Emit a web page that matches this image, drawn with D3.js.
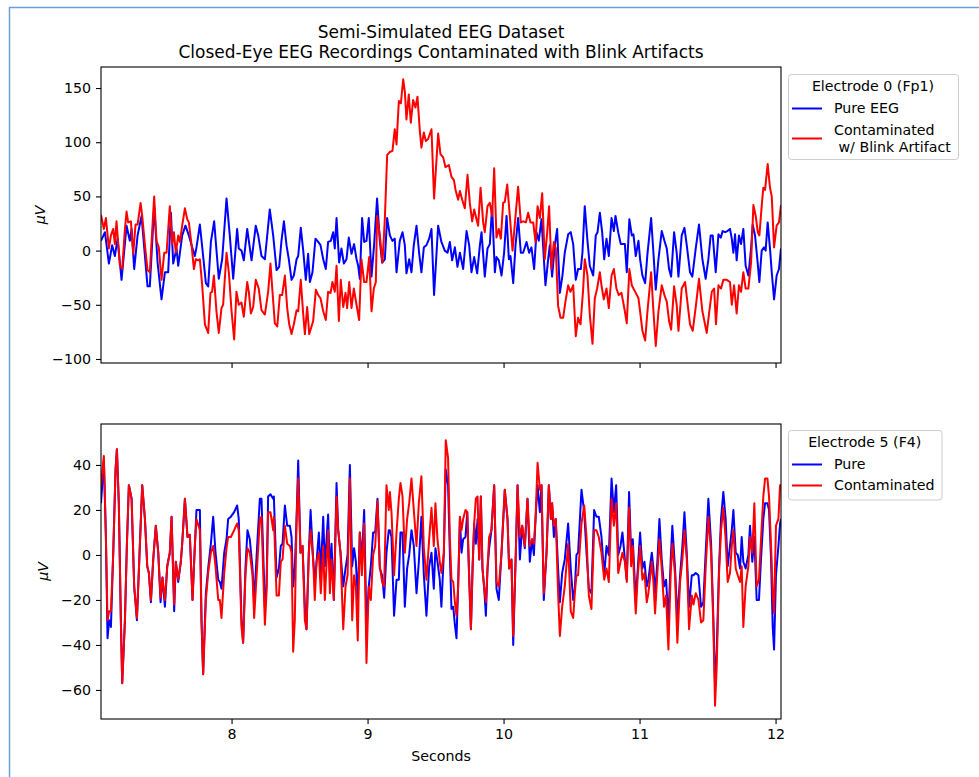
<!DOCTYPE html>
<html>
<head>
<meta charset="utf-8">
<script src="https://cdn.jsdelivr.net/npm/d3@7"></script>
<style>
  body { margin: 0; background: #fff; }
  text { font-family: "DejaVu Sans", sans-serif; }
</style>
</head>
<body>
<div id="chart"></div>
<script>
// readings taken off the figure: [seconds, microvolts]
var fp1Pure = [[7.04,9],[7.069,17],[7.098,-12],[7.122,5],[7.142,-5],[7.162,11],[7.191,-27],[7.228,23],[7.252,9],[7.265,20],[7.284,-17],[7.309,14],[7.338,32],[7.382,-33],[7.399,-33],[7.431,41],[7.456,-11],[7.485,-45],[7.510,-20],[7.534,-20],[7.554,35],[7.571,-12],[7.595,2],[7.608,-14],[7.637,14],[7.661,23],[7.686,14],[7.706,5],[7.730,-5],[7.742,3],[7.767,24],[7.791,-5],[7.811,-30],[7.828,-33],[7.848,8],[7.872,27],[7.906,-26],[7.931,-8],[7.963,48],[7.987,14],[8.012,-26],[8.041,20],[8.053,2],[8.073,0],[8.090,-9],[8.115,20],[8.147,-9],[8.178,23],[8.196,14],[8.220,-5],[8.245,-8],[8.281,38],[8.306,14],[8.331,-18],[8.350,-15],[8.367,9],[8.385,27],[8.404,5],[8.421,-8],[8.441,-27],[8.458,-23],[8.478,-8],[8.490,-5],[8.509,21],[8.527,0],[8.546,-27],[8.563,-3],[8.576,-29],[8.595,-20],[8.617,11],[8.637,8],[8.654,5],[8.674,-8],[8.693,-17],[8.710,8],[8.730,9],[8.747,17],[8.759,2],[8.772,30],[8.791,-11],[8.808,2],[8.826,-12],[8.845,-8],[8.862,12],[8.882,-3],[8.901,6],[8.919,-8],[8.931,-14],[8.943,-26],[8.960,30],[8.975,8],[8.992,9],[9.009,30],[9.029,-24],[9.048,5],[9.070,48],[9.090,9],[9.107,-11],[9.127,-8],[9.144,30],[9.164,14],[9.183,9],[9.200,11],[9.213,-20],[9.237,9],[9.257,17],[9.274,5],[9.286,-21],[9.306,-8],[9.323,-20],[9.340,5],[9.360,23],[9.379,-2],[9.396,-20],[9.414,3],[9.433,5],[9.453,11],[9.470,20],[9.489,-41],[9.519,23],[9.543,8],[9.568,0],[9.588,-2],[9.605,8],[9.622,-9],[9.642,3],[9.661,-15],[9.679,-2],[9.703,-17],[9.728,18],[9.747,5],[9.764,-20],[9.784,-6],[9.806,-21],[9.826,5],[9.838,17],[9.862,-24],[9.882,2],[9.899,6],[9.916,41],[9.936,-20],[9.948,-6],[9.965,-9],[9.985,-23],[10.004,-2],[10.022,32],[10.039,-8],[10.051,-5],[10.071,-30],[10.088,5],[10.107,30],[10.127,-2],[10.144,-2],[10.169,8],[10.188,-2],[10.205,3],[10.225,-17],[10.242,17],[10.259,9],[10.279,29],[10.308,-32],[10.328,-8],[10.340,5],[10.357,-24],[10.377,5],[10.394,20],[10.414,-39],[10.433,-23],[10.450,-2],[10.475,15],[10.494,17],[10.512,6],[10.531,-27],[10.548,-17],[10.568,-17],[10.580,-2],[10.597,41],[10.617,9],[10.634,-14],[10.659,-23],[10.678,14],[10.691,17],[10.708,35],[10.725,17],[10.740,-8],[10.757,11],[10.774,-5],[10.794,30],[10.811,18],[10.823,32],[10.843,17],[10.862,6],[10.892,6],[10.906,-20],[10.925,29],[10.943,14],[10.955,15],[10.972,-5],[10.992,9],[11.004,-8],[11.021,-23],[11.041,-30],[11.058,-3],[11.085,30],[11.102,-2],[11.119,-36],[11.139,-8],[11.163,18],[11.183,9],[11.200,2],[11.217,-17],[11.232,-24],[11.254,17],[11.273,-2],[11.286,-24],[11.310,14],[11.330,21],[11.347,5],[11.371,-20],[11.388,-24],[11.413,2],[11.437,24],[11.462,-8],[11.486,-26],[11.506,-8],[11.523,14],[11.538,14],[11.560,-20],[11.580,15],[11.597,12],[11.611,18],[11.629,17],[11.646,18],[11.665,20],[11.678,11],[11.690,-2],[11.702,15],[11.714,-9],[11.731,14],[11.746,6],[11.763,20],[11.780,-14],[11.800,-23],[11.820,2],[11.832,24],[11.849,14],[11.866,-8],[11.881,-29],[11.898,0],[11.915,3],[11.927,0],[11.942,26],[11.959,2],[11.972,-20],[11.989,-45],[12.008,-23],[12.025,-17],[12.04,2]];

var fp1Contam = [[7.04,33],[7.061,20],[7.076,30],[7.098,2],[7.113,14],[7.130,20],[7.142,6],[7.154,27],[7.179,-14],[7.196,-17],[7.216,20],[7.228,36],[7.240,26],[7.260,27],[7.277,-3],[7.294,24],[7.309,24],[7.331,44],[7.343,32],[7.363,5],[7.382,-18],[7.399,-20],[7.431,50],[7.448,9],[7.465,3],[7.485,-27],[7.505,-2],[7.522,-2],[7.546,41],[7.563,6],[7.576,17],[7.590,-2],[7.608,14],[7.620,8],[7.637,23],[7.657,39],[7.674,29],[7.686,26],[7.706,5],[7.723,-17],[7.737,-8],[7.755,-9],[7.767,-8],[7.784,-32],[7.804,-68],[7.828,-76],[7.845,-39],[7.857,-38],[7.870,-23],[7.889,-56],[7.906,-76],[7.926,-53],[7.938,-50],[7.963,-2],[7.980,-20],[8.000,-56],[8.019,-82],[8.036,-38],[8.053,-50],[8.073,-48],[8.090,-61],[8.115,-29],[8.127,-38],[8.142,-58],[8.159,-52],[8.178,-27],[8.200,-35],[8.220,-55],[8.245,-59],[8.269,-38],[8.286,-12],[8.301,-38],[8.318,-67],[8.336,-70],[8.355,-41],[8.372,-41],[8.392,-23],[8.409,-53],[8.424,-68],[8.441,-77],[8.458,-68],[8.478,-55],[8.490,-56],[8.509,-27],[8.527,-59],[8.539,-77],[8.556,-52],[8.571,-77],[8.588,-70],[8.600,-65],[8.620,-36],[8.637,-41],[8.654,-44],[8.674,-56],[8.693,-64],[8.710,-38],[8.728,-39],[8.742,-29],[8.759,-38],[8.772,-14],[8.789,-65],[8.803,-27],[8.821,-52],[8.838,-39],[8.850,-53],[8.865,-29],[8.882,-53],[8.899,-35],[8.919,-50],[8.938,-64],[8.955,-8],[8.975,-29],[8.992,-29],[9.012,-6],[9.029,-56],[9.046,-35],[9.061,-29],[9.070,32],[9.090,14],[9.110,-11],[9.127,29],[9.144,88],[9.164,91],[9.183,92],[9.200,112],[9.213,98],[9.230,138],[9.245,136],[9.262,158],[9.274,147],[9.286,121],[9.303,144],[9.318,118],[9.335,139],[9.352,132],[9.367,142],[9.384,111],[9.396,95],[9.414,109],[9.428,101],[9.445,103],[9.470,112],[9.489,48],[9.519,108],[9.536,89],[9.556,86],[9.573,77],[9.598,79],[9.617,68],[9.635,65],[9.647,56],[9.666,47],[9.679,55],[9.696,47],[9.715,39],[9.735,70],[9.752,44],[9.769,27],[9.784,38],[9.801,29],[9.813,23],[9.831,58],[9.850,26],[9.862,17],[9.882,41],[9.899,44],[9.916,32],[9.931,76],[9.948,12],[9.965,20],[9.980,11],[9.997,44],[10.009,45],[10.027,61],[10.046,32],[10.066,0],[10.088,32],[10.107,59],[10.127,26],[10.144,27],[10.164,26],[10.181,35],[10.198,26],[10.218,26],[10.235,8],[10.250,41],[10.267,30],[10.284,53],[10.303,-8],[10.321,17],[10.335,41],[10.352,-17],[10.370,8],[10.384,2],[10.401,-51],[10.419,-62],[10.438,-62],[10.455,-47],[10.475,-32],[10.492,-38],[10.512,-32],[10.531,-79],[10.548,-62],[10.566,-68],[10.585,-36],[10.597,-8],[10.617,-23],[10.634,-59],[10.654,-86],[10.671,-44],[10.688,-35],[10.708,-20],[10.720,-32],[10.737,-45],[10.757,-35],[10.774,-53],[10.794,-23],[10.811,-17],[10.830,-35],[10.847,-41],[10.867,-39],[10.892,-56],[10.906,-67],[10.925,-17],[10.943,-32],[10.955,-35],[10.972,-39],[10.992,-44],[11.004,-56],[11.021,-74],[11.041,-83],[11.058,-56],[11.085,-20],[11.102,-56],[11.119,-88],[11.139,-56],[11.163,-32],[11.183,-41],[11.200,-47],[11.217,-65],[11.232,-73],[11.254,-33],[11.273,-50],[11.286,-74],[11.310,-35],[11.335,-29],[11.354,-50],[11.371,-68],[11.391,-74],[11.415,-50],[11.437,-26],[11.462,-56],[11.494,-76],[11.513,-56],[11.531,-38],[11.548,-35],[11.562,-68],[11.580,-32],[11.599,-35],[11.616,-27],[11.641,-27],[11.665,-29],[11.678,-50],[11.695,-32],[11.714,-58],[11.731,-32],[11.746,-38],[11.763,-20],[11.780,-35],[11.800,-35],[11.820,-11],[11.837,42],[11.854,32],[11.869,17],[11.881,14],[11.898,41],[11.910,58],[11.923,56],[11.942,80],[11.959,58],[11.972,50],[11.989,3],[12.008,23],[12.025,26],[12.04,42]];

var f4Pure = [[7.04,23],[7.061,42],[7.076,8],[7.088,-37],[7.100,-29],[7.113,-32],[7.130,1],[7.147,38],[7.157,47],[7.171,23],[7.186,-29],[7.196,-57],[7.216,-29],[7.230,4],[7.245,31],[7.265,25],[7.284,-14],[7.304,-29],[7.321,-3],[7.343,31],[7.363,16],[7.380,-5],[7.392,-8],[7.407,-21],[7.424,-2],[7.443,13],[7.461,1],[7.478,-21],[7.492,-10],[7.510,-23],[7.527,-5],[7.546,1],[7.559,17],[7.578,-25],[7.590,-3],[7.608,-12],[7.627,-3],[7.637,5],[7.657,25],[7.676,8],[7.693,9],[7.713,-20],[7.730,4],[7.742,20],[7.767,20],[7.779,-29],[7.791,-53],[7.811,-17],[7.828,-6],[7.848,5],[7.865,17],[7.882,1],[7.902,-11],[7.914,-12],[7.926,-15],[7.946,1],[7.963,7],[7.975,16],[7.995,17],[8.019,19],[8.041,22],[8.053,16],[8.073,-29],[8.085,-39],[8.102,-6],[8.117,11],[8.134,7],[8.154,-6],[8.166,-21],[8.191,7],[8.208,25],[8.220,25],[8.245,-23],[8.257,-14],[8.269,26],[8.286,27],[8.306,25],[8.311,26],[8.331,-10],[8.348,-6],[8.362,4],[8.375,5],[8.392,22],[8.409,13],[8.429,13],[8.441,8],[8.453,-14],[8.465,-6],[8.478,16],[8.490,42],[8.507,1],[8.522,4],[8.539,-23],[8.551,-33],[8.568,1],[8.581,20],[8.600,-2],[8.612,-12],[8.625,-3],[8.642,10],[8.656,-8],[8.674,17],[8.686,-5],[8.710,18],[8.723,-8],[8.735,5],[8.752,-20],[8.772,32],[8.784,11],[8.801,1],[8.821,-14],[8.838,-6],[8.853,0],[8.870,40],[8.887,-5],[8.901,3],[8.914,-3],[8.928,-20],[8.943,10],[8.958,-2],[8.975,20],[8.992,-32],[9.009,-14],[9.024,-5],[9.041,10],[9.056,10],[9.073,25],[9.090,-6],[9.107,-9],[9.122,-19],[9.139,1],[9.156,11],[9.164,11],[9.176,8],[9.195,-27],[9.213,-11],[9.230,-11],[9.242,10],[9.257,10],[9.274,-23],[9.291,-6],[9.306,0],[9.323,11],[9.340,4],[9.360,-17],[9.377,-3],[9.396,17],[9.414,-9],[9.433,-27],[9.453,-5],[9.470,1],[9.487,-15],[9.499,3],[9.514,-3],[9.531,-11],[9.543,-23],[9.561,1],[9.575,38],[9.592,31],[9.605,1],[9.617,-24],[9.630,-23],[9.642,-31],[9.654,-37],[9.666,-14],[9.679,16],[9.691,1],[9.703,7],[9.720,8],[9.733,19],[9.745,-6],[9.760,-33],[9.772,-6],[9.784,14],[9.796,5],[9.809,16],[9.821,-2],[9.833,26],[9.845,-6],[9.858,-15],[9.870,-27],[9.882,-6],[9.894,3],[9.911,11],[9.931,31],[9.948,-15],[9.965,-20],[9.985,1],[10.009,29],[10.029,16],[10.041,-6],[10.058,-2],[10.071,-40],[10.090,1],[10.103,31],[10.120,-2],[10.137,13],[10.156,3],[10.176,25],[10.193,-3],[10.210,7],[10.223,0],[10.235,16],[10.250,31],[10.267,19],[10.279,31],[10.296,-20],[10.316,1],[10.333,31],[10.348,16],[10.357,23],[10.370,8],[10.384,16],[10.401,-6],[10.414,-21],[10.431,-8],[10.450,-2],[10.475,14],[10.494,-6],[10.512,-20],[10.524,-15],[10.536,0],[10.548,1],[10.573,29],[10.593,19],[10.610,1],[10.627,-15],[10.646,-17],[10.666,20],[10.683,17],[10.700,17],[10.720,8],[10.740,-9],[10.757,4],[10.774,0],[10.794,34],[10.811,19],[10.828,31],[10.843,0],[10.860,4],[10.874,10],[10.892,-2],[10.906,-11],[10.923,28],[10.938,1],[10.950,7],[10.962,-8],[10.972,-20],[10.987,-6],[11.004,10],[11.021,-6],[11.036,-3],[11.053,-14],[11.065,-11],[11.090,1],[11.102,-6],[11.114,-17],[11.131,-3],[11.146,16],[11.163,-2],[11.180,-14],[11.195,-11],[11.212,-29],[11.229,-2],[11.241,13],[11.261,-6],[11.278,-29],[11.298,-9],[11.315,4],[11.330,19],[11.347,1],[11.364,-23],[11.384,-9],[11.396,-9],[11.413,-8],[11.433,-9],[11.452,-23],[11.469,-21],[11.486,1],[11.506,25],[11.526,5],[11.543,-29],[11.555,-58],[11.567,-43],[11.584,-6],[11.599,16],[11.616,28],[11.633,16],[11.648,-5],[11.665,4],[11.678,11],[11.690,20],[11.707,1],[11.722,0],[11.739,-6],[11.751,8],[11.763,-3],[11.780,-6],[11.800,0],[11.812,13],[11.829,-3],[11.844,8],[11.861,-20],[11.878,-20],[11.893,-2],[11.910,16],[11.923,23],[11.940,23],[11.952,20],[11.967,-2],[11.979,-32],[11.989,-42],[12.003,-9],[12.021,4],[12.033,14],[12.04,16]];

var f4Contam = [[7.04,31],[7.061,44],[7.076,8],[7.088,-29],[7.100,-25],[7.113,-25],[7.130,1],[7.147,38],[7.157,47],[7.171,23],[7.186,-29],[7.196,-57],[7.216,-29],[7.230,4],[7.245,31],[7.265,25],[7.284,-14],[7.304,-28],[7.321,-3],[7.343,31],[7.363,16],[7.380,-5],[7.392,-8],[7.407,-20],[7.424,-2],[7.443,13],[7.461,1],[7.478,-19],[7.492,-10],[7.510,-20],[7.527,-5],[7.546,1],[7.559,17],[7.578,-22],[7.590,-3],[7.608,-11],[7.627,-3],[7.637,5],[7.657,25],[7.676,8],[7.693,9],[7.713,-20],[7.730,4],[7.742,16],[7.767,11],[7.779,-29],[7.791,-53],[7.811,-20],[7.828,-8],[7.848,1],[7.865,4],[7.882,-5],[7.902,-20],[7.914,-20],[7.926,-28],[7.946,-8],[7.963,3],[7.975,8],[7.995,8],[8.019,11],[8.041,14],[8.053,11],[8.073,-32],[8.085,-39],[8.102,-9],[8.117,3],[8.134,1],[8.154,-9],[8.166,-28],[8.191,-2],[8.208,16],[8.220,17],[8.245,-31],[8.257,-17],[8.269,19],[8.286,19],[8.306,11],[8.311,17],[8.331,-18],[8.348,-18],[8.362,-3],[8.375,-2],[8.392,13],[8.409,5],[8.429,4],[8.441,1],[8.453,-43],[8.465,-29],[8.478,16],[8.490,34],[8.507,1],[8.522,4],[8.539,-29],[8.551,-33],[8.568,1],[8.581,11],[8.600,-2],[8.612,-20],[8.625,-3],[8.642,1],[8.656,-17],[8.674,4],[8.686,-20],[8.710,11],[8.723,-17],[8.735,-2],[8.752,-20],[8.772,26],[8.784,11],[8.801,1],[8.821,-33],[8.838,-14],[8.853,-9],[8.870,34],[8.887,-29],[8.901,-9],[8.914,-14],[8.928,-38],[8.943,10],[8.958,-9],[8.975,14],[8.992,-48],[9.009,-14],[9.024,-20],[9.041,0],[9.056,4],[9.073,24],[9.090,-5],[9.107,-12],[9.122,-14],[9.139,31],[9.156,20],[9.164,28],[9.176,19],[9.195,-9],[9.213,10],[9.230,25],[9.242,32],[9.257,26],[9.274,1],[9.291,16],[9.306,23],[9.323,34],[9.340,20],[9.360,4],[9.377,23],[9.396,35],[9.414,3],[9.433,-11],[9.453,7],[9.470,21],[9.487,4],[9.499,23],[9.514,7],[9.531,-3],[9.543,-8],[9.561,1],[9.575,51],[9.592,43],[9.605,8],[9.617,-11],[9.630,-12],[9.642,-21],[9.654,-27],[9.666,-14],[9.679,17],[9.691,11],[9.703,16],[9.720,20],[9.733,19],[9.745,-6],[9.760,-33],[9.772,-6],[9.784,14],[9.796,25],[9.809,26],[9.821,-2],[9.833,26],[9.845,-6],[9.858,-15],[9.870,-21],[9.882,-6],[9.894,8],[9.911,11],[9.931,31],[9.948,-12],[9.965,-14],[9.985,1],[10.009,29],[10.029,16],[10.041,-6],[10.058,-2],[10.071,-36],[10.090,1],[10.103,31],[10.120,8],[10.137,13],[10.156,4],[10.176,25],[10.193,4],[10.210,7],[10.223,5],[10.235,16],[10.250,41],[10.267,29],[10.279,31],[10.296,-17],[10.316,1],[10.333,31],[10.348,16],[10.357,23],[10.370,13],[10.384,16],[10.401,-17],[10.414,-36],[10.431,-23],[10.450,-14],[10.475,5],[10.494,-25],[10.512,-28],[10.524,-17],[10.536,-9],[10.548,-9],[10.573,14],[10.593,22],[10.610,8],[10.627,-18],[10.646,-24],[10.666,11],[10.683,11],[10.700,8],[10.720,1],[10.740,-11],[10.757,-6],[10.774,-12],[10.794,25],[10.811,13],[10.828,23],[10.843,-8],[10.860,-3],[10.874,1],[10.892,-3],[10.906,-12],[10.923,21],[10.938,-5],[10.950,4],[10.962,-14],[10.972,-26],[10.987,-9],[11.004,4],[11.021,-11],[11.036,-8],[11.053,-21],[11.065,-17],[11.090,-3],[11.102,-12],[11.114,-26],[11.131,-8],[11.146,7],[11.163,-6],[11.180,-23],[11.195,-18],[11.212,-42],[11.229,-8],[11.241,5],[11.261,-9],[11.278,-39],[11.298,-12],[11.315,-2],[11.330,11],[11.347,-2],[11.364,-33],[11.384,-18],[11.396,-22],[11.413,-17],[11.433,-20],[11.452,-30],[11.469,-29],[11.486,-6],[11.506,17],[11.526,1],[11.543,-32],[11.555,-67],[11.567,-50],[11.584,-9],[11.599,11],[11.616,21],[11.633,7],[11.648,-12],[11.665,-8],[11.678,4],[11.690,11],[11.707,-6],[11.722,-9],[11.739,-12],[11.751,-5],[11.763,-32],[11.780,-14],[11.800,-5],[11.812,8],[11.829,1],[11.844,23],[11.861,-14],[11.878,-11],[11.893,7],[11.910,26],[11.923,34],[11.940,34],[11.952,26],[11.967,4],[11.979,-17],[11.989,-26],[12.003,13],[12.021,16],[12.033,31],[12.04,31]];

var xTicks = [8, 9, 10, 11, 12];
var fp1Ticks = [-100, -50, 0, 50, 100, 150];
var f4Ticks = [-60, -40, -20, 0, 20, 40];
var titleLines = ["Semi-Simulated EEG Dataset", "Closed-Eye EEG Recordings Contaminated with Blink Artifacts"];

var W = 979, H = 777;
var left = 101, right = 781;
var fs = 14.2;

var svg = d3.select("#chart").append("svg")
    .attr("width", W)
    .attr("height", H)
    .style("display", "block");

svg.append("rect").attr("width", W).attr("height", H).attr("fill", "#fff");

// notebook cell border
svg.append("path")
    .attr("d", "M9.5," + H + "V7.5H" + W)
    .attr("fill", "none")
    .attr("stroke", "#6a9fdc")
    .attr("stroke-width", 1.5);

var x = d3.scaleLinear().domain([7.04, 12.04]).range([left, right]);

function fmt(d) { return d < 0 ? "\u2212" + Math.abs(d) : String(d); }

function drawPanel(p) {
    var y = d3.scaleLinear().domain(p.domain).range([p.bottom, p.top]);
    var g = svg.append("g");

    g.append("clipPath").attr("id", p.id)
        .append("rect")
        .attr("x", left).attr("y", p.top)
        .attr("width", right - left).attr("height", p.bottom - p.top);

    var line = d3.line()
        .x(function (d) { return x(d[0]); })
        .y(function (d) { return y(d[1]); });

    var lines = g.append("g").attr("clip-path", "url(#" + p.id + ")");
    p.series.forEach(function (s) {
        lines.append("path")
            .datum(s.data)
            .attr("fill", "none")
            .attr("stroke", s.color)
            .attr("stroke-width", 2)
            .attr("stroke-linejoin", "round")
            .attr("d", line);
    });

    // frame
    g.append("rect")
        .attr("x", left).attr("y", p.top)
        .attr("width", right - left).attr("height", p.bottom - p.top)
        .attr("fill", "none")
        .attr("stroke", "#000")
        .attr("stroke-width", 1.1);

    var ya = g.append("g")
        .attr("transform", "translate(" + left + ",0)")
        .call(d3.axisLeft(y).tickValues(p.ticks).tickFormat(fmt).tickSize(5).tickPadding(5));
    var xa = g.append("g")
        .attr("transform", "translate(0," + p.bottom + ")")
        .call(d3.axisBottom(x).tickValues(xTicks)
            .tickFormat(p.xlabels ? d3.format("d") : "")
            .tickSize(5).tickPadding(5));
    [ya, xa].forEach(function (a) {
        a.select(".domain").remove();
        a.selectAll("line").attr("stroke", "#000").attr("stroke-width", 1.1);
        a.selectAll("text").attr("fill", "#000")
            .style("font-size", fs + "px")
            .style("font-family", "'DejaVu Sans', sans-serif");
    });

    g.append("text")
        .attr("transform", "translate(" + p.ylabelX + "," + ((p.top + p.bottom) / 2) + ") rotate(-90)")
        .attr("text-anchor", "middle")
        .attr("dy", "0.35em")
        .style("font-size", fs + "px")
        .style("font-style", "italic")
        .text("\u03bcV");

    // legend
    var lg = g.append("g").attr("transform", "translate(" + p.legend.x + "," + p.legend.y + ")");
    lg.append("rect")
        .attr("x", 0.5).attr("y", 0.5)
        .attr("width", p.legend.w).attr("height", p.legend.h)
        .attr("rx", 3)
        .attr("fill", "#fff").attr("fill-opacity", 0.8)
        .attr("stroke", "#cccccc");
    lg.append("text")
        .attr("x", p.legend.w / 2).attr("y", 12)
        .attr("dy", "0.35em")
        .attr("text-anchor", "middle")
        .style("font-size", fs + "px")
        .text(p.legend.title);
    p.series.forEach(function (s, i) {
        var row = p.legend.rows[i];
        lg.append("line")
            .attr("x1", 4).attr("x2", 34)
            .attr("y1", row).attr("y2", row)
            .attr("stroke", s.color).attr("stroke-width", 2);
        var t = lg.append("text")
            .attr("x", 46)
            .style("font-size", fs + "px")
            .style("white-space", "pre")
            .attr("xml:space", "preserve");
        var parts = s.label.split("\n");
        parts.forEach(function (txt, k) {
            t.append("tspan")
                .attr("x", 46)
                .attr("y", row + (k - (parts.length - 1) / 2) * 17.4)
                .attr("dy", "0.35em")
                .text(txt);
        });
    });
}

drawPanel({
    id: "clipTop", top: 67, bottom: 363, domain: [-103.7, 169.4], ticks: fp1Ticks, xlabels: false, ylabelX: 40,
    series: [
        { data: fp1Pure, color: "#0000ff", label: "Pure EEG" },
        { data: fp1Contam, color: "#ff0000", label: "Contaminated\n w/ Blink Artifact" }
    ],
    legend: { x: 788, y: 74, w: 170, h: 85, title: "Electrode 0 (Fp1)", rows: [34.5, 64.5] }
});

drawPanel({
    id: "clipBottom", top: 424, bottom: 719, domain: [-72.9, 58.2], ticks: f4Ticks, xlabels: true, ylabelX: 43,
    series: [
        { data: f4Pure, color: "#0000ff", label: "Pure" },
        { data: f4Contam, color: "#ff0000", label: "Contaminated" }
    ],
    legend: { x: 788, y: 430, w: 153.5, h: 69.5, title: "Electrode 5 (F4)", rows: [34.5, 55.5] }
});

// titles
svg.append("text")
    .attr("x", (left + right) / 2).attr("y", 37.5)
    .attr("text-anchor", "middle")
    .style("font-size", "17px")
    .text(titleLines[0]);
svg.append("text")
    .attr("x", (left + right) / 2).attr("y", 58)
    .attr("text-anchor", "middle")
    .style("font-size", "17px")
    .text(titleLines[1]);

svg.append("text")
    .attr("x", (left + right) / 2).attr("y", 761)
    .attr("text-anchor", "middle")
    .style("font-size", fs + "px")
    .text("Seconds");
</script>
</body>
</html>
